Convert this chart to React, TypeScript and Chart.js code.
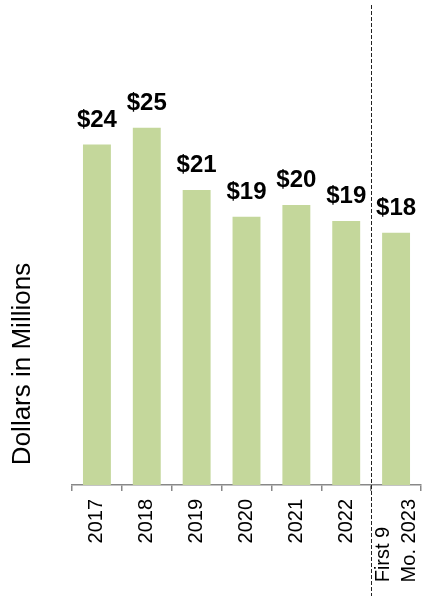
import React, { useEffect, useRef } from "react";
import { Chart, registerables } from "chart.js";

Chart.register(...registerables);

const categories: (string | string[])[] = ["2017", "2018", "2019", "2020", "2021", "2022", ["First 9", "Mo. 2023"]];
const values: number[] = [24.11, 25.3, 20.89, 19.0, 19.83, 18.7, 17.87];
const valueLabels: string[] = ["$24", "$25", "$21", "$19", "$20", "$19", "$18"];
const axisTitle = "Dollars in Millions";

const FONT = "'Liberation Sans', Arial, Helvetica, sans-serif";
const TICK_FONT_SIZE = 20;

let measureCtx: CanvasRenderingContext2D | null = null;
function measure(text: string): number {
  if (!measureCtx) measureCtx = document.createElement("canvas").getContext("2d");
  if (!measureCtx) return text.length;
  measureCtx.font = `${TICK_FONT_SIZE}px ${FONT}`;
  return measureCtx.measureText(text).width;
}

// Rotated multi-line labels: keep every line starting at the same place.
function padLines(label: string | string[]): string | string[] {
  if (!Array.isArray(label)) return label;
  const widest = Math.max(...label.map(measure));
  return label.map((line) => {
    let s = line;
    while (measure(s + " ") <= widest + 2) s += " ";
    return s;
  });
}

export default function App() {
  const ref = useRef<HTMLCanvasElement | null>(null);

  useEffect(() => {
    const canvas = ref.current;
    if (!canvas) return;

    const labelPlugin = {
      id: "valueLabels",
      afterDatasetsDraw(chart: any) {
        const ctx = chart.ctx;
        const meta = chart.getDatasetMeta(0);
        ctx.save();
        ctx.fillStyle = "#000";
        ctx.font = `bold 24px ${FONT}`;
        ctx.textAlign = "center";
        ctx.textBaseline = "alphabetic";
        meta.data.forEach((bar: any, i: number) => {
          ctx.fillText(valueLabels[i], bar.x, bar.y - 18);
        });
        ctx.restore();
      },
    };

    // center multi-line rotated tick labels on their tick
    const centerMultiLine = {
      id: "centerMultiLine",
      beforeDraw(chart: any) {
        const xs = chart.scales.x;
        const items = xs.getLabelItems(chart.chartArea);
        items.forEach((item: any) => {
          if (Array.isArray(item.label) && !item._centered) {
            const lh = item.font.lineHeight;
            item.textOffset -= ((item.label.length - 1) * lh) / 2;
            item._centered = true;
          }
        });
      },
    };

    const dividerPlugin = {
      id: "divider",
      afterDraw(chart: any) {
        const ctx = chart.ctx;
        const xs = chart.scales.x;
        const n = categories.length;
        const x = Math.round((xs.getPixelForValue(n - 2) + xs.getPixelForValue(n - 1)) / 2) + 0.5;
        ctx.save();
        ctx.strokeStyle = "#222";
        ctx.lineWidth = 1;
        ctx.setLineDash([4, 2]);
        ctx.beginPath();
        ctx.moveTo(x, 5);
        ctx.lineTo(x, chart.height);
        ctx.stroke();
        ctx.restore();
      },
    };

    const titlePlugin = {
      id: "yTitle",
      afterDraw(chart: any) {
        const ctx = chart.ctx;
        ctx.save();
        ctx.translate(23, 364);
        ctx.rotate(-Math.PI / 2);
        ctx.fillStyle = "#000";
        ctx.font = `26px ${FONT}`;
        ctx.textAlign = "center";
        ctx.textBaseline = "middle";
        ctx.fillText(axisTitle, 0, 0);
        ctx.restore();
      },
    };

    const chart = new Chart(canvas, {
      type: "bar",
      data: {
        labels: categories,
        datasets: [
          {
            data: values,
            backgroundColor: "#C4D79B",
            borderWidth: 0,
            barPercentage: 0.56,
            categoryPercentage: 1,
          },
        ],
      },
      options: {
        animation: false,
        responsive: false,
        devicePixelRatio: 1,
        layout: { padding: { left: 72, right: 4, top: 5, bottom: 0 } },
        plugins: {
          legend: { display: false },
          tooltip: { enabled: false },
          title: { display: false },
        },
        scales: {
          x: {
            offset: true,
            afterFit(scale: any) {
              scale.paddingLeft = 0;
              scale.paddingRight = 0;
              scale.height = 111;
            },
            grid: {
              display: true,
              offset: true,
              drawOnChartArea: false,
              drawTicks: true,
              tickLength: 6,
              color: "#888",
              lineWidth: 1.5,
            },
            border: { display: true, color: "#888", width: 1.5 },
            ticks: {
              autoSkip: false,
              minRotation: 90,
              maxRotation: 90,
              padding: 8,
              color: "#000",
              font: { family: FONT, size: TICK_FONT_SIZE, lineHeight: 1.3 },
              callback(this: any, _v: any, index: number) {
                return padLines(categories[index]);
              },
            },
          },
          y: {
            display: false,
            min: 0,
            max: 34,
          },
        },
      },
      plugins: [centerMultiLine, labelPlugin, dividerPlugin, titlePlugin],
    });

    return () => chart.destroy();
  }, []);

  return (
    <div style={{ position: "absolute", left: 0, top: 0, width: 425, height: 596 }}>
      <canvas ref={ref} width={425} height={596} style={{ display: "block" }} />
    </div>
  );
}
